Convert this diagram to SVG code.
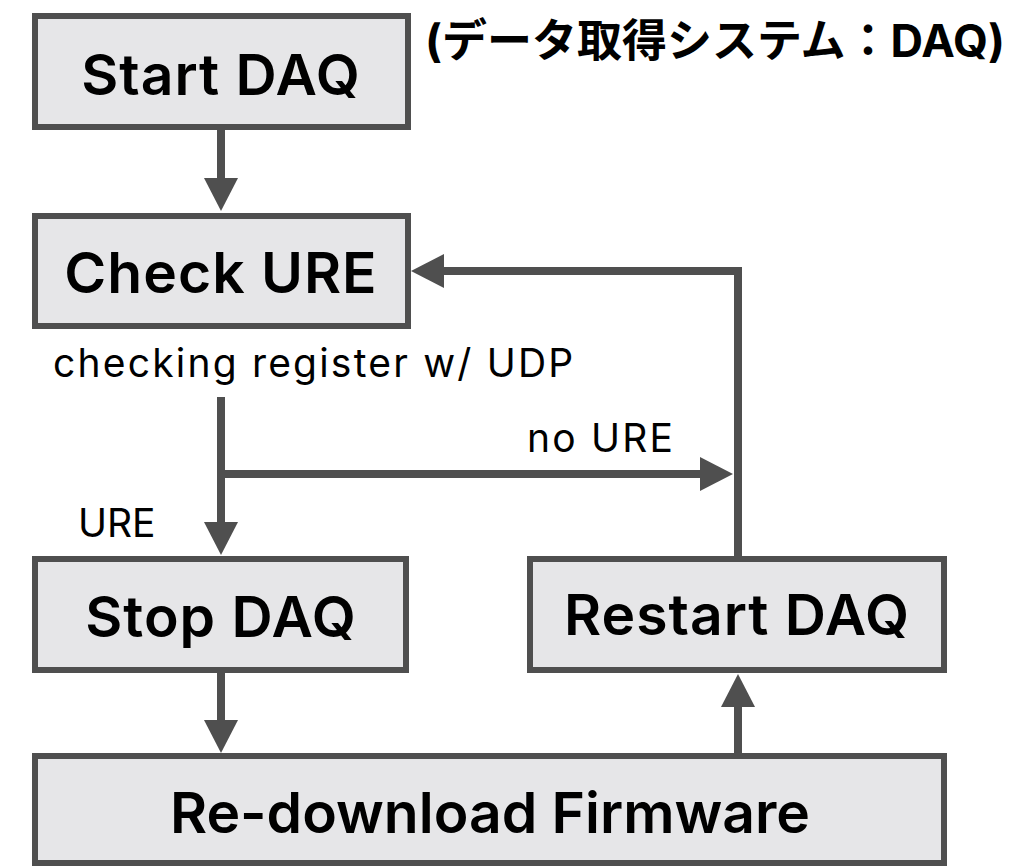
<svg xmlns="http://www.w3.org/2000/svg" width="1029" height="866" viewBox="0 0 1029 866">
  <defs>
    <style>
      .box { fill: #e6e6e8; stroke: #4f4f4f; stroke-width: 6; }
      .title { font-family: Inter, "Liberation Sans", Arial, sans-serif; font-weight: 600; font-size: 57px; letter-spacing: 1px; fill: #000; text-anchor: middle; }
      .tight { letter-spacing: 0; }
      .label { font-family: Inter, "Liberation Sans", Arial, sans-serif; font-weight: 400; font-size: 39px; letter-spacing: 2.2px; fill: #000; }
      .note { font-family: Inter, "Noto Sans CJK JP", sans-serif; font-weight: 700; font-size: 45px; fill: #000; }
      .wire { fill: none; stroke: #4f4f4f; stroke-width: 8; stroke-linejoin: miter; marker-end: url(#head); }
    </style>
    <marker id="head" viewBox="0 0 33 34" markerWidth="33" markerHeight="34" markerUnits="userSpaceOnUse" refX="1" refY="17" orient="auto">
      <path d="M0,0 L33,17 L0,34 Z" fill="#4f4f4f"/>
    </marker>
  </defs>

  <rect width="1029" height="866" fill="#ffffff"/>

  <!-- connectors -->
  <g id="connectors">
    <path class="wire" d="M221,130 V179"/>
    <path class="wire" d="M738,556 V271 H443"/>
    <path class="wire" d="M221,397 V523"/>
    <path class="wire" d="M221,474 H701"/>
    <path class="wire" d="M221,673 V721"/>
    <path class="wire" d="M738,756 V706"/>
  </g>

  <!-- nodes -->
  <g id="start-daq">
    <rect class="box" x="35" y="16" width="373" height="111"/>
    <text class="title" x="221" y="95">Start DAQ</text>
  </g>

  <g id="check-ure">
    <rect class="box" x="35" y="216" width="373" height="110"/>
    <text class="title" x="221" y="293">Check URE</text>
  </g>

  <g id="stop-daq">
    <rect class="box" x="35" y="559" width="371" height="111"/>
    <text class="title" x="221" y="637">Stop DAQ</text>
  </g>

  <g id="restart-daq">
    <rect class="box" x="530" y="559" width="414" height="111"/>
    <text class="title" x="737" y="635">Restart DAQ</text>
  </g>

  <g id="redownload-firmware">
    <rect class="box" x="35" y="756" width="909" height="107"/>
    <text class="title tight" x="490" y="833">Re-download Firmware</text>
  </g>

  <!-- labels -->
  <g id="labels">
    <text class="note" x="425" y="57">(データ取得システム：DAQ)</text>
    <text class="label" x="53" y="377">checking register w/ UDP</text>
    <text class="label" x="527" y="452">no URE</text>
    <text class="label" x="78" y="537" style="letter-spacing:0">URE</text>
  </g>
</svg>
